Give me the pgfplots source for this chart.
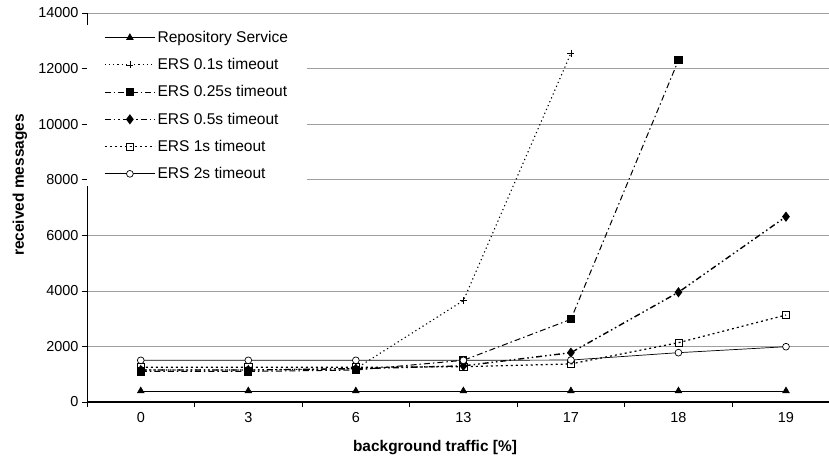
\documentclass[border=0pt]{standalone}
\usepackage{fontspec}
\setmainfont{Liberation Sans}
\usepackage{pgfplots}
\pgfplotsset{compat=1.18}
\begin{document}
\begin{tikzpicture}
\begin{axis}[
  scale only axis, width=742bp, height=389bp,
  xmin=-0.5, xmax=6.4, ymin=0, ymax=14000,
  axis x line=bottom, axis y line=left,
  axis line style={-},
  x axis line style={line width=1.8bp},
  y axis line style={line width=0.8bp},
  tick align=outside,
  xtick={-0.5,0.5,1.5,2.5,3.5,4.5,5.5}, xticklabels={},
  extra x ticks={0,1,2,3,4,5,6},
  extra x tick labels={0,3,6,13,17,18,19},
  extra x tick style={major tick length=0pt},
  ytick={0,2000,...,14000},
  scaled y ticks=false,
  major tick length=5bp,
  tick style={black, line width=0.6bp},
  ymajorgrids, grid style={gray!75, line width=0.7bp},
  /pgf/number format/1000 sep={},
  /pgf/number format/assume math mode=true,
  tick label style={font=\fontsize{14.5}{16}\selectfont},
  xticklabel style={yshift=-7bp},
  xlabel={background traffic [\%]},
  ylabel={received messages},
  xlabel style={font=\bfseries\fontsize{15.5}{17}\selectfont, at={(axis description cs:0.469,-0.118)}, anchor=center},
  ylabel style={font=\bfseries\fontsize{15.5}{17}\selectfont, at={(axis description cs:-0.0903,0.558)}, anchor=center},
  legend cell align=left,
  legend style={at={(axis description cs:0.0,0.969)}, anchor=north west, draw=none, fill=white,
    font=\fontsize{15.6}{17}\selectfont, row sep=10.5bp, inner xsep=17bp, inner ysep=4bp},
  legend image code/.code={\draw[mark repeat=2,mark phase=2] plot coordinates {(0bp,0bp)(25bp,0bp)(50bp,0bp)};},
]
\addplot[black, line width=0.6bp, mark=triangle*, mark size=3.8bp, mark options={solid}]
  coordinates {(0,400)(1,400)(2,400)(3,400)(4,400)(5,400)(6,400)};
\addlegendentry{Repository Service}
\addplot[black, line width=1.1bp, dash pattern=on 1.2bp off 3bp, mark=+, mark size=3.5bp, mark options={solid, line width=0.7bp}]
  coordinates {(0,1150)(1,1150)(2,1200)(3,3650)(4,12550)};
\addlegendentry{ERS 0.1s timeout}
\addplot[black, line width=1bp, dash pattern=on 6bp off 3bp on 1.5bp off 3bp, mark=square*, mark size=3.6bp, mark options={solid}]
  coordinates {(0,1100)(1,1100)(2,1150)(3,1500)(4,2975)(5,12300)};
\addlegendentry{ERS 0.25s timeout}
\addplot[black, line width=1.4bp, dash pattern=on 6bp off 3bp on 1.5bp off 3bp on 1.5bp off 3bp, mark=diamond*, mark size=4bp, mark options={solid}]
  coordinates {(0,1150)(1,1150)(2,1200)(3,1300)(4,1775)(5,3950)(6,6670)};
\addlegendentry{ERS 0.5s timeout}
\addplot[black, line width=1.2bp, dash pattern=on 2bp off 3bp, mark=square, mark size=3.6bp, mark options={solid, fill=white, line width=0.7bp}]
  coordinates {(0,1250)(1,1250)(2,1250)(3,1270)(4,1370)(5,2135)(6,3130)};
\addlegendentry{ERS 1s timeout}
\addplot[black, line width=0.7bp, mark=*, mark size=3.4bp, mark options={solid, fill=white}]
  coordinates {(0,1500)(1,1500)(2,1500)(3,1500)(4,1510)(5,1775)(6,1990)};
\addlegendentry{ERS 2s timeout}
\coordinate (sw) at (rel axis cs:0,0);
\coordinate (ne) at (rel axis cs:1,1);
\end{axis}
\pgfresetboundingbox
\path ([xshift=-87bp,yshift=-61bp]sw) rectangle ([yshift=13bp]ne);
\end{tikzpicture}
\end{document}
